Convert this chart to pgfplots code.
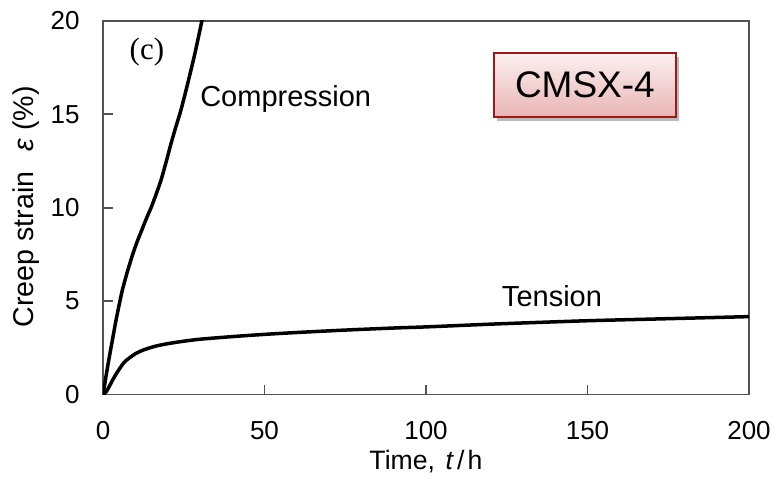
\documentclass[border=0pt]{standalone}
\usepackage{pgfplots}
\pgfplotsset{compat=1.18}
\usepackage{fontspec}
\setmainfont{Liberation Sans}
\newfontfamily\seriffont{Liberation Serif}
\usetikzlibrary{shadows}
\definecolor{boxborder}{HTML}{9E1A1A}
\definecolor{boxtop}{HTML}{FCF0F0}
\definecolor{boxbottom}{HTML}{E9B5B5}
\begin{document}
\begin{tikzpicture}
\begin{axis}[
  name=ax,
  width=323pt, height=186.75pt, scale only axis,
  xmin=0, xmax=200, ymin=0, ymax=20,
  xtick={0,50,100,150,200}, ytick={0,5,10,15,20},
  tick pos=left, tick align=inside, major tick length=5pt,
  axis line style={line width=0.9pt, color=black!68},
  every tick/.style={line width=0.9pt, color=black!68},
  /pgf/number format/assume math mode=true,
  ticklabel style={font=\fontsize{13}{15}\selectfont, inner sep=0pt},
  yticklabel style={xshift=-11.5pt},
  xticklabel style={yshift=-13.3pt},
  xlabel={Time,\hspace{0.4em}\textit{t}\hspace{0.12em}/\hspace{0.12em}h},
  xlabel style={at={(axis description cs:0.5,0)}, anchor=base, yshift=-37.25pt, inner sep=0pt, font=\fontsize{13.3}{15}\selectfont},
  ylabel={Creep strain\hspace{0.7em}\textit{ε} (\%)},
  ylabel style={at={(axis description cs:-0.1184,0.503)}, anchor=center, inner sep=0pt, font=\fontsize{14.3}{16}\selectfont},
  clip=true,
]
% Compression
\addplot[black, line width=1.75pt, smooth, tension=0.4] coordinates {
(0,0) (0.5,0.5) (1,1.05) (2,2.05) (3,3.0) (4,3.95) (5,4.8) (6,5.6) (7.5,6.55)
(9,7.4) (10.5,8.15) (12,8.8) (13.5,9.45) (15,10.05) (16.5,10.75) (18,11.5)
(19.7,12.55) (21,13.4) (22.5,14.3) (24,15.15) (25.5,16.15) (27,17.2)
(28.5,18.3) (30,19.5) (30.6,20.0) (31.2,20.5)
};
% Tension
\addplot[black, line width=1.75pt, smooth, tension=0.4] coordinates {
(0,0) (1,0.15) (2,0.45) (3,0.78) (4,1.08) (5,1.35) (6,1.6) (7,1.8) (8.5,2.0)
(10,2.18) (12,2.35) (14.5,2.5) (17,2.62) (20,2.72) (24,2.83) (30,2.96)
(40,3.1) (50,3.22) (60,3.32) (75,3.45) (90,3.56) (100,3.62) (115,3.73)
(125,3.8) (150,3.95) (175,4.06) (200,4.17)
};
\end{axis}
% annotations (placed via axis coordinates)
\begin{axis}[
  width=323pt, height=186.75pt, scale only axis,
  xmin=0, xmax=200, ymin=0, ymax=20, hide axis, clip=false,
]
\node[font=\seriffont\fontsize{15.5}{17}\selectfont, inner sep=0pt] at (axis cs:13.6,18.35) {(c)};
\node[anchor=west, inner sep=0pt, font=\fontsize{14.5}{16}\selectfont] at (axis cs:30.0,15.83) {Compression};
\node[anchor=west, inner sep=0pt, font=\fontsize{14.5}{16}\selectfont] at (axis cs:123.4,5.29) {Tension};
\node[draw=boxborder, line width=1.1pt, top color=boxtop, bottom color=boxbottom,
  minimum width=91pt, minimum height=32pt, inner sep=0pt,
  drop shadow={shadow xshift=1.5pt, shadow yshift=-2pt, opacity=0.45, fill=black!60},
  font=\fontsize{18.5}{20}\selectfont] at (axis cs:149.2,16.58) {CMSX-4};
\end{axis}
\path ([shift={(-51.5pt,-41.25pt)}]ax.south west) rectangle ([shift={(13pt,10.5pt)}]ax.north east);
\end{tikzpicture}
\end{document}
